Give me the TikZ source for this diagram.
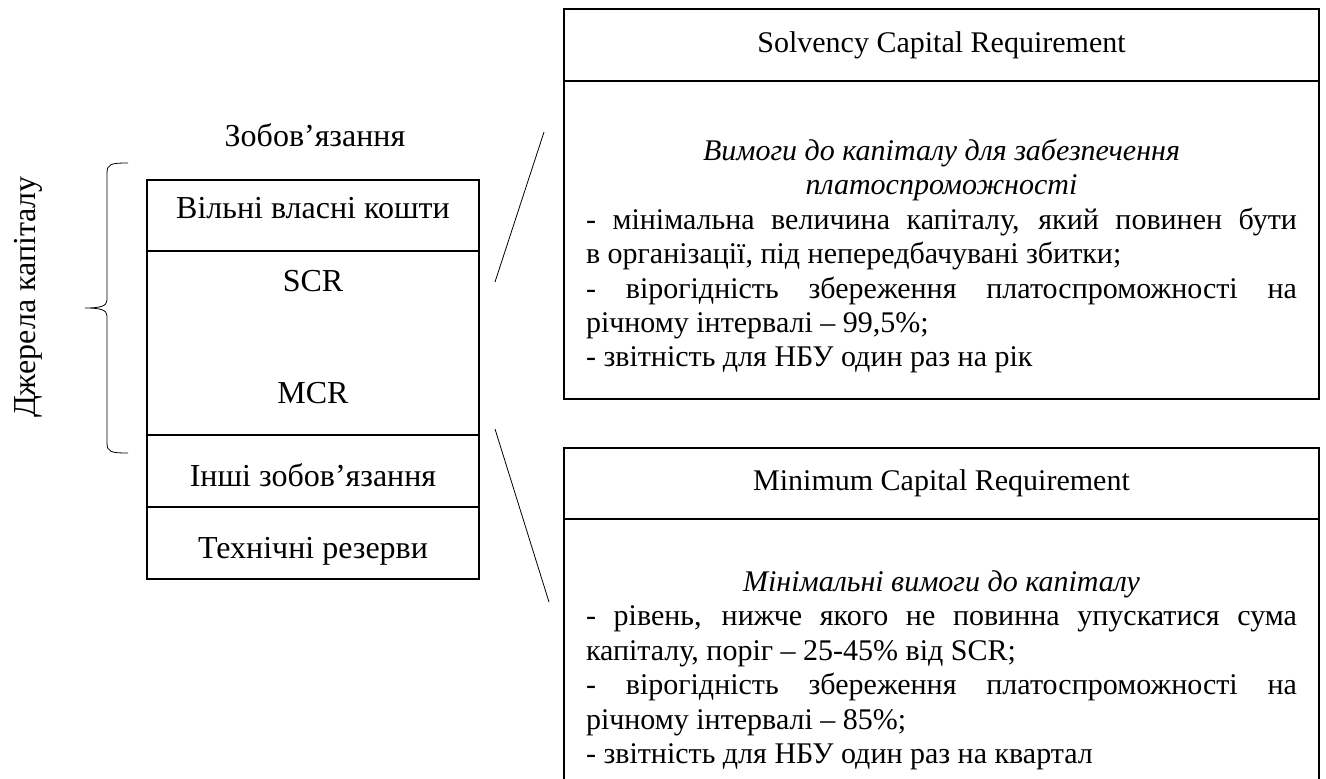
\documentclass[tikz,border=0pt]{standalone}
\usepackage{fontspec}
\setmainfont{Liberation Serif}
\usetikzlibrary{positioning}

\tikzset{
  big/.style={font=\fontsize{16}{18}\selectfont},
  layer/.style={draw,big,line width=0.6pt,minimum width=166pt,inner sep=0pt,outer sep=0pt,text height=11pt,text depth=0pt},
  head/.style={draw,line width=0.6pt,minimum width=377.5pt,minimum height=36pt,inner sep=0pt,outer sep=0pt},
  body/.style={text width=355.5pt,align=justify,inner sep=0pt}
}

\begin{document}
\begin{tikzpicture}[x=0.5pt,y=-0.5pt,font=\fontsize{15}{17.2}\selectfont]
  \useasboundingbox (0,0) rectangle (1326,779);
  \node (VVK) [layer,text depth=8pt,minimum height=35.5pt,anchor=north west] at (147,180) {Вільні власні кошти};
  \node (SM) [layer,minimum height=92pt,below=0pt of VVK] {};
  \node (IZ) [layer,text height=16pt,minimum height=36pt,below=0pt of SM] {Інші зобов’язання};
  \node (TR) [layer,text height=16pt,minimum height=36pt,below=0pt of IZ] {Технічні резерви};
  \node (SCRL) [big] at ([yshift=-15pt]SM.north) {SCR};
  \node (MCRL) [big] at ([yshift=21pt]SM.south) {MCR};
  \node (ZOB) [big] at (315,135) {Зобов’язання};
  \node (DZH) [big,rotate=90] at (28,297) {Джерела капіталу};
  \coordinate (BT) at (128,163);
  \coordinate (BM) at (85,308);
  \coordinate (BB) at (128,453);
  \draw (BT) .. controls (111,163) and (107,164) .. (107,173) -- (107,300)
        .. controls (107,306) and (101,308) .. (BM)
        .. controls (101,308) and (107,310) .. (107,316) -- (107,443)
        .. controls (107,452) and (111,453) .. (BB);

  \node (SCRH) [head,anchor=north west] at (564,9) {Solvency Capital Requirement};
  \node (SCRB) [head,minimum height=159pt,below=0pt of SCRH] {};
  \node (SCRT) [body,anchor=north] at ([yshift=-27.5pt]SCRB.north) {%
    {\centering\itshape\strut Вимоги до капіталу для забезпечення\\ платоспроможності\par}
    - мінімальна величина капіталу, який повинен бути\linebreak в організації, під непередбачувані збитки;\\
    - вірогідність збереження платоспроможності на\linebreak річному інтервалі – 99,5\%;\\
    - звітність для НБУ один раз на рік};

  \node (MCRH) [head,minimum height=35.5pt,anchor=north west] at (564,448) {Minimum Capital Requirement};
  \node (MCRB) [head,minimum height=150pt,below=0pt of MCRH] {};
  \node (MCRT) [body,anchor=north] at ([yshift=-24pt]MCRB.north) {%
    {\centering\itshape\strut Мінімальні вимоги до капіталу\par}
    - рівень, нижче якого не повинна упускатися сума\linebreak капіталу, поріг – 25-45\% від SCR;\\
    - вірогідність збереження платоспроможності на\linebreak річному інтервалі – 85\%;\\
    - звітність для НБУ один раз на квартал};

  \coordinate (U1) at (495,282);
  \coordinate (U2) at (544,132);
  \coordinate (L1) at (495,429);
  \coordinate (L2) at (549,602);
  \draw (U1) -- (U2);
  \draw (L1) -- (L2);
\end{tikzpicture}
\end{document}
